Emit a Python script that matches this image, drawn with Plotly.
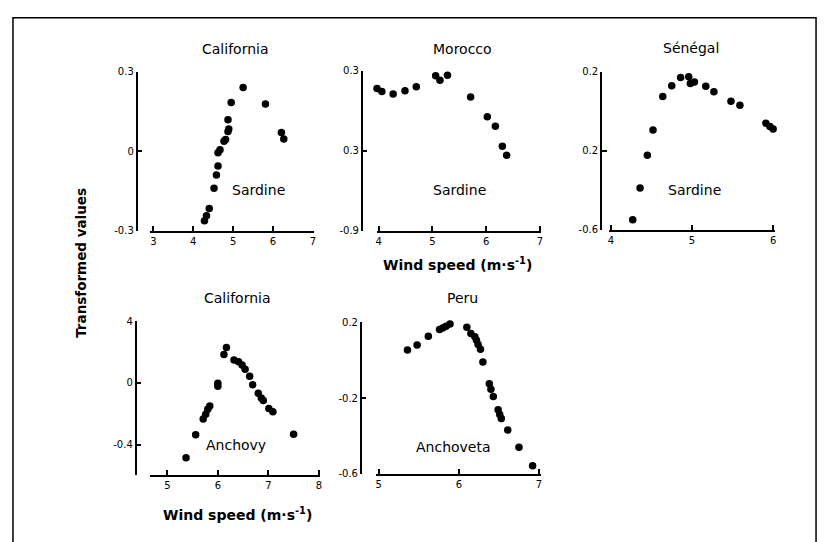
import plotly.graph_objects as go

W, H = 829, 542

# ---------------- data ----------------
cal_sardine_wind = [4.28, 4.33, 4.40, 4.52, 4.58, 4.62, 4.62, 4.67, 4.77, 4.81, 4.87, 4.89, 4.87, 4.95, 5.25, 5.81, 6.21, 6.27]
cal_sardine_val = [-0.263, -0.244, -0.216, -0.14, -0.09, -0.056, -0.006, 0.006, 0.038, 0.044, 0.075, 0.084, 0.119, 0.184, 0.241, 0.179, 0.071, 0.046]

mor_sardine_wind = [3.97, 4.06, 4.27, 4.49, 4.70, 5.06, 5.14, 5.28, 5.71, 6.02, 6.17, 6.30, 6.38]
mor_sardine_val = [0.168, 0.146, 0.126, 0.151, 0.181, 0.263, 0.23, 0.268, 0.104, -0.045, -0.115, -0.266, -0.334]

sen_sardine_wind = [4.27, 4.36, 4.45, 4.52, 4.64, 4.75, 4.86, 4.96, 4.98, 5.03, 5.17, 5.27, 5.48, 5.59, 5.91, 5.96, 6.00, 6.03]
sen_sardine_val = [-0.55, -0.389, -0.223, -0.095, 0.076, 0.130, 0.172, 0.175, 0.142, 0.149, 0.127, 0.099, 0.051, 0.031, -0.06, -0.077, -0.089, -0.099]

cal_anchovy_wind = [5.37, 5.56, 5.71, 5.76, 5.80, 5.84, 6.00, 6.00, 6.12, 6.17, 6.32, 6.41, 6.48, 6.54, 6.63, 6.69, 6.80, 6.86, 6.90, 7.01, 7.09, 7.50]
cal_anchovy_val = [-0.485, -0.336, -0.234, -0.202, -0.170, -0.149, -0.021, -0.002, 0.185, 0.230, 0.149, 0.138, 0.117, 0.089, 0.043, -0.011, -0.066, -0.098, -0.113, -0.166, -0.187, -0.332]

peru_anchoveta_wind = [5.36, 5.48, 5.62, 5.76, 5.80, 5.84, 5.89, 5.95, 6.01, 6.10, 6.15, 6.20, 6.22, 6.24, 6.27, 6.30, 6.38, 6.40, 6.43, 6.49, 6.51, 6.53, 6.61, 6.75, 6.92]
peru_anchoveta_val = [0.054, 0.08, 0.126, 0.162, 0.169, 0.179, 0.191, 0.209, 0.203, 0.174, 0.14, 0.123, 0.105, 0.083, 0.057, -0.01, -0.124, -0.153, -0.192, -0.261, -0.287, -0.308, -0.368, -0.459, -0.557]

# tick values / labels (labels as printed on the figure)
cal_sardine_xticks = [3, 4, 5, 6, 7]
cal_sardine_yticks = [0.3, 0.0, -0.3]
cal_sardine_ytext = ["0.3", "0", "-0.3"]

mor_sardine_xticks = [4, 5, 6, 7]
mor_sardine_yticks = [0.3, -0.3, -0.9]
mor_sardine_ytext = ["0.3", "0.3", "-0.9"]

sen_sardine_xticks = [4, 5, 6]
sen_sardine_yticks = [0.2, -0.2, -0.6]
sen_sardine_ytext = ["0.2", "0.2", "-0.6"]

cal_anchovy_xticks = [5, 6, 7, 8]
cal_anchovy_yticks = [0.4, 0.0, -0.4]
cal_anchovy_ytext = ["4", "0", "-0.4"]

peru_anchoveta_xticks = [5, 6, 7]
peru_anchoveta_yticks = [0.2, -0.2, -0.6]
peru_anchoveta_ytext = ["0.2", "-0.2", "-0.6"]

panels = [
    dict(region="California", species="Sardine", x=cal_sardine_wind, y=cal_sardine_val,
         xt=cal_sardine_xticks, yt=cal_sardine_yticks, ytt=cal_sardine_ytext,
         xdom=(150, 314), xr=(2.925, 7.025), ypos=136, ydom=(68, 230), yr=(-0.3005, 0.3005),
         title_xy=(235, 45), sp_xy=(258, 188)),
    dict(region="Morocco", species="Sardine", x=mor_sardine_wind, y=mor_sardine_val,
         xt=mor_sardine_xticks, yt=mor_sardine_yticks, ytt=mor_sardine_ytext,
         xdom=(377, 542), xr=(3.963, 7.019), ypos=362, ydom=(67, 230), yr=(-0.901, 0.301),
         title_xy=(463, 45), sp_xy=(460, 188)),
    dict(region="Sénégal", species="Sardine", x=sen_sardine_wind, y=sen_sardine_val,
         xt=sen_sardine_xticks, yt=sen_sardine_yticks, ytt=sen_sardine_ytext,
         xdom=(610, 777), xr=(3.975, 6.025), ypos=602, ydom=(68, 229), yr=(-0.601, 0.201),
         title_xy=(693, 44), sp_xy=(696, 188)),
    dict(region="California", species="Anchovy", x=cal_anchovy_wind, y=cal_anchovy_val,
         xt=cal_anchovy_xticks, yt=cal_anchovy_yticks, ytt=cal_anchovy_ytext,
         xdom=(150, 320), xr=(4.665, 8.02), ypos=135, ydom=(322, 479), yr=(-0.597, 0.401),
         title_xy=(237, 299), sp_xy=(236, 448)),
    dict(region="Peru", species="Anchoveta", x=peru_anchoveta_wind, y=peru_anchoveta_val,
         xt=peru_anchoveta_xticks, yt=peru_anchoveta_yticks, ytt=peru_anchoveta_ytext,
         xdom=(376, 542), xr=(4.963, 7.025), ypos=361, ydom=(323, 478), yr=(-0.601, 0.201),
         title_xy=(463, 299), sp_xy=(454, 450)),
]

FONT = "DejaVu Sans"
fig = go.Figure()
annotations = []
layout = {}

for i, p in enumerate(panels, start=1):
    xa = "x" if i == 1 else f"x{i}"
    ya = "y" if i == 1 else f"y{i}"
    fig.add_trace(go.Scatter(
        x=p["x"], y=p["y"], mode="markers", xaxis=xa, yaxis=ya,
        marker=dict(color="black", size=7.5), showlegend=False, cliponaxis=False))
    xkey = "xaxis" if i == 1 else f"xaxis{i}"
    ykey = "yaxis" if i == 1 else f"yaxis{i}"
    layout[xkey] = dict(
        domain=[p["xdom"][0] / W, p["xdom"][1] / W], range=list(p["xr"]),
        anchor=ya, showline=True, linecolor="black", linewidth=1.5,
        ticks="inside", ticklen=5, tickwidth=1.5, tickcolor="black",
        tickvals=p["xt"], ticktext=[str(v) for v in p["xt"]],
        showgrid=False, zeroline=False,
        tickfont=dict(family=FONT, size=10, color="black"))
    layout[ykey] = dict(
        domain=[1 - p["ydom"][1] / H, 1 - p["ydom"][0] / H], range=list(p["yr"]),
        anchor="free", position=p["ypos"] / W, showline=True, linecolor="black", linewidth=1.5,
        ticks="inside", ticklen=5, tickwidth=1.5, tickcolor="black",
        tickvals=p["yt"], ticktext=p["ytt"],
        showgrid=False, zeroline=False,
        tickfont=dict(family=FONT, size=10, color="black"))
    annotations.append(dict(x=p["title_xy"][0] / W, y=1 - p["title_xy"][1] / H,
                            xref="paper", yref="paper", text=p["region"], showarrow=False,
                            xanchor="center", yanchor="middle",
                            font=dict(family=FONT, size=14, color="black")))
    annotations.append(dict(x=p["sp_xy"][0] / W, y=1 - p["sp_xy"][1] / H,
                            xref="paper", yref="paper", text=p["species"], showarrow=False,
                            xanchor="center", yanchor="middle",
                            font=dict(family=FONT, size=14, color="black")))

annotations += [
    dict(x=458 / W, y=1 - 264 / H, xref="paper", yref="paper",
         text="<b>Wind speed (m·s<sup>-1</sup>)</b>", showarrow=False,
         xanchor="center", yanchor="middle",
         font=dict(family=FONT, size=14, color="black")),
    dict(x=237 / W, y=1 - 519 / H, xref="paper", yref="paper",
         text="<b>Wind speed (m·s<sup>-1</sup>)</b>", showarrow=False,
         xanchor="center", yanchor="middle",
         font=dict(family=FONT, size=14, color="black")),
    dict(x=80 / W, y=1 - 263 / H, xref="paper", yref="paper",
         text="<b>Transformed values</b>", showarrow=False, textangle=-90,
         xanchor="center", yanchor="middle",
         font=dict(family=FONT, size=13.5, color="black")),
]

fig.update_layout(
    width=W, height=H, margin=dict(l=0, r=0, t=0, b=0),
    paper_bgcolor="white", plot_bgcolor="white",
    annotations=annotations,
    shapes=[dict(type="rect", xref="paper", yref="paper",
                 x0=12 / W, x1=818 / W, y0=-0.05, y1=1 - 13 / H,
                 line=dict(color="black", width=1.5))],
    **layout)

fig.write_html("out.html", config={"displayModeBar": False},
               post_script="document.body.style.margin='0';document.body.style.overflow='hidden';")
